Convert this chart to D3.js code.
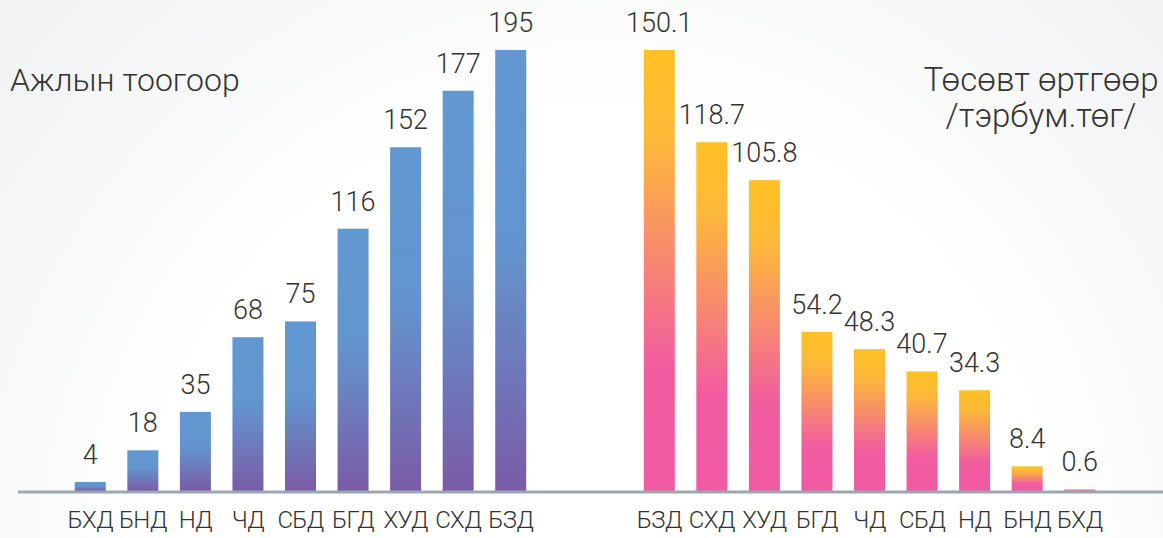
<!DOCTYPE html>
<html>
<head>
<meta charset="utf-8">
<script src="https://cdnjs.cloudflare.com/ajax/libs/d3/7.8.5/d3.min.js"></script>
<style>
  html, body { margin: 0; padding: 0; background: #fff; }
  #chart { width: 1163px; height: 538px; }
  text { font-family: Roboto, 'Noto Sans', sans-serif; font-weight: 300; fill: #333; }
</style>
</head>
<body>
<div id="chart"></div>
<script>
'use strict';

var countCategories = ['БХД', 'БНД', 'НД', 'ЧД', 'СБД', 'БГД', 'ХУД', 'СХД', 'БЗД'];
var countValues = [4, 18, 35, 68, 75, 116, 152, 177, 195];

var costCategories = ['БЗД', 'СХД', 'ХУД', 'БГД', 'ЧД', 'СБД', 'НД', 'БНД', 'БХД'];
var costValues = [150.1, 118.7, 105.8, 54.2, 48.3, 40.7, 34.3, 8.4, 0.6];
var costLabels = ['150.1', '118.7', '105.8', '54.2', '48.3', '40.7', '34.3', '8.4', '0.6'];

var leftTitle = ['Ажлын тоогоор'];
var rightTitle = ['Төсөвт өртгөөр', '/тэрбум.төг/'];

var width = 1163, height = 538;
var baseY = 491, topY = 50;

var svg = d3.select('#chart').append('svg').attr('width', width).attr('height', height);

var defs = svg.append('defs');

var bg = defs.append('radialGradient').attr('id', 'bg')
  .attr('gradientUnits', 'userSpaceOnUse')
  .attr('cx', 600).attr('cy', 560).attr('r', 760);
bg.append('stop').attr('offset', '0%').attr('stop-color', '#ffffff');
bg.append('stop').attr('offset', '58%').attr('stop-color', '#ffffff');
bg.append('stop').attr('offset', '100%').attr('stop-color', '#f2f3f4');

var blue = defs.append('linearGradient').attr('id', 'blue')
  .attr('x1', 0).attr('y1', 0).attr('x2', 0).attr('y2', 1);
blue.append('stop').attr('offset', '0%').attr('stop-color', '#6198d1');
blue.append('stop').attr('offset', '45%').attr('stop-color', '#6394cd');
blue.append('stop').attr('offset', '100%').attr('stop-color', '#7a5ba6');

var warm = defs.append('linearGradient').attr('id', 'warm')
  .attr('x1', 0).attr('y1', 0).attr('x2', 0).attr('y2', 1);
warm.append('stop').attr('offset', '0%').attr('stop-color', '#ffc124');
warm.append('stop').attr('offset', '20%').attr('stop-color', '#fdb93a');
warm.append('stop').attr('offset', '72%').attr('stop-color', '#f15ca0');
warm.append('stop').attr('offset', '100%').attr('stop-color', '#f05aa1');

svg.append('rect').attr('width', width).attr('height', height).style('fill', 'url(#bg)');

var drawGroup = function (cats, values, labels, range, fill) {
  var x = d3.scaleBand().domain(cats).range(range).paddingInner(0.41).paddingOuter(0.205);
  var y = d3.scaleLinear().domain([0, d3.max(values)]).range([baseY, topY]);
  var data = cats.map(function (c, i) { return { cat: c, value: values[i], label: labels[i] }; });

  var g = svg.append('g');
  g.selectAll('rect').data(data).enter().append('rect')
    .attr('x', function (d) { return x(d.cat); })
    .attr('y', function (d) { return y(d.value); })
    .attr('width', x.bandwidth())
    .attr('height', function (d) { return baseY - y(d.value); })
    .style('fill', fill);

  g.selectAll('text.val').data(data).enter().append('text').classed('val', true)
    .attr('x', function (d) { return x(d.cat) + x.bandwidth() / 2; })
    .attr('y', function (d) { return y(d.value) - 18; })
    .attr('text-anchor', 'middle')
    .style('font-size', '27px')
    .text(function (d) { return d.label; });

  var axis = d3.axisBottom(x).tickSize(0).tickPadding(20);
  var ax = svg.append('g').attr('transform', 'translate(0,' + baseY + ')').call(axis);
  ax.select('.domain').remove();
  ax.selectAll('text').style('font-size', '24px').style('letter-spacing', '-0.6px')
    .style('fill', '#333').attr('dy', '0.71em');
};

drawGroup(countCategories, countValues, countValues.map(String), [64, 537], 'url(#blue)');
drawGroup(costCategories, costValues, costLabels, [633, 1106], 'url(#warm)');

svg.append('line').attr('x1', 18).attr('x2', width).attr('y1', baseY + 1).attr('y2', baseY + 1)
  .style('stroke', '#9ba7b3').style('stroke-width', 3);

svg.append('text').attr('x', 10).attr('y', 91).style('font-size', '32px').text(leftTitle[0]);

svg.append('g').selectAll('text').data(rightTitle).enter().append('text')
  .attr('x', 1041).attr('y', function (d, i) { return 91 + i * 36; })
  .attr('text-anchor', 'middle')
  .style('font-size', '33px')
  .text(function (d) { return d; });
</script>
</body>
</html>
